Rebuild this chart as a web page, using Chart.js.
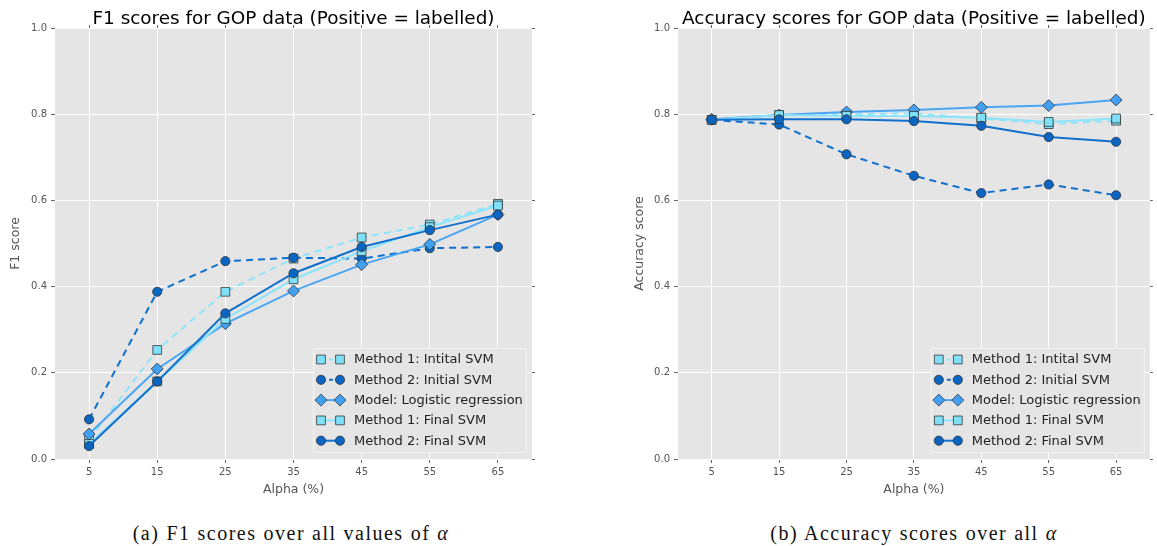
<!DOCTYPE html>
<html>
<head>
<meta charset="utf-8">
<script src="https://cdn.jsdelivr.net/npm/chart.js@4.4.1/dist/chart.umd.min.js"></script>
<style>
  body { margin: 0; background: #fff; width: 1157px; height: 546px; position: relative; overflow: hidden; }
  .box { position: absolute; top: 0; height: 505px; }
  .cap { position: absolute; top: 522px; font-family: "Liberation Serif", serif; font-size: 20px; letter-spacing: 1.5px; word-spacing: 0.5px; color: #111; white-space: nowrap; transform: translateX(-50%); }
</style>
</head>
<body>
<div class="box" style="left:0;width:560px"><canvas id="f1Chart"></canvas></div>
<div class="box" style="left:580px;width:577px"><canvas id="accChart"></canvas></div>
<div class="cap" style="left:291px">(a) F1 scores over all values of <i>α</i></div>
<div class="cap" style="left:914px">(b) Accuracy scores over all <i>α</i></div>
<script>
// x values and tick labels
const alpha = [5, 15, 25, 35, 45, 55, 65];
const yTicks = [0, 0.2, 0.4, 0.6, 0.8, 1.0];
const seriesNames = ['Method 1: Intital SVM', 'Method 2: Initial SVM', 'Model: Logistic regression',
                     'Method 1: Final SVM', 'Method 2: Final SVM'];

// F1 scores
const f1M1Initial = [0.045, 0.253, 0.388, 0.465, 0.514, 0.544, 0.592];
const f1M2Initial = [0.092, 0.388, 0.459, 0.467, 0.465, 0.489, 0.492];
const f1Logistic  = [0.058, 0.209, 0.314, 0.390, 0.451, 0.498, 0.567];
const f1M1Final   = [0.035, 0.180, 0.325, 0.417, 0.482, 0.538, 0.588];
const f1M2Final   = [0.030, 0.180, 0.338, 0.431, 0.492, 0.531, 0.567];

// accuracy scores
const accM1Initial = [0.787, 0.798, 0.800, 0.802, 0.790, 0.777, 0.785];
const accM2Initial = [0.787, 0.776, 0.707, 0.657, 0.617, 0.637, 0.612];
const accLogistic  = [0.788, 0.798, 0.805, 0.810, 0.816, 0.820, 0.833];
const accM1Final   = [0.787, 0.798, 0.796, 0.796, 0.792, 0.782, 0.790];
const accM2Final   = [0.787, 0.788, 0.788, 0.784, 0.773, 0.747, 0.736];

const styles = [
  { line: '#8ee4fa', fill: '#7fe0f7', marker: 'rect',    radius: 6.2, dash: [7, 5] },
  { line: '#1170cc', fill: '#0a66c2', marker: 'circle',  radius: 4.6, dash: [7, 5] },
  { line: '#4aa5f2', fill: '#42a0f2', marker: 'rectRot', radius: 6,   dash: [] },
  { line: '#8ee4fa', fill: '#7fe0f7', marker: 'rect',    radius: 6.2, dash: [] },
  { line: '#1170cc', fill: '#0a66c2', marker: 'circle',  radius: 4.6, dash: [] }
];
const edge = 'rgba(45,45,45,0.75)';
const FONT = 'DejaVu Sans';

function drawMarker(ctx, st, x, y) {
  ctx.beginPath();
  if (st.marker === 'circle') {
    ctx.arc(x, y, st.radius, 0, Math.PI * 2);
  } else if (st.marker === 'rect') {
    const s = st.radius * Math.SQRT1_2;
    ctx.rect(x - s, y - s, 2 * s, 2 * s);
  } else {
    const r = st.radius;
    ctx.moveTo(x - r, y); ctx.lineTo(x, y - r); ctx.lineTo(x + r, y); ctx.lineTo(x, y + r); ctx.closePath();
  }
  ctx.fillStyle = st.fill;
  ctx.fill();
  ctx.lineWidth = 1;
  ctx.strokeStyle = edge;
  ctx.stroke();
}

// grey plot background, title centred over the plot area, matplotlib-like legend box
const extras = {
  id: 'extras',
  beforeDraw(chart) {
    const ca = chart.chartArea;
    const ctx = chart.ctx;
    ctx.save();
    ctx.fillStyle = '#e5e5e5';
    ctx.fillRect(ca.left, ca.top, ca.right - ca.left, ca.bottom - ca.top);
    ctx.restore();
  },
  afterDraw(chart, args, opts) {
    const ctx = chart.ctx;
    const ca = chart.chartArea;
    ctx.save();
    ctx.font = '18.4px "' + FONT + '"';
    ctx.fillStyle = '#000';
    ctx.textAlign = 'center';
    ctx.textBaseline = 'alphabetic';
    ctx.fillText(opts.title, (ca.left + ca.right) / 2, 24);

    const w = 214, h = 105;
    const bx = ca.right - 5 - w, by = ca.bottom - 6 - h;
    ctx.fillStyle = '#e5e5e5';
    ctx.fillRect(bx, by, w, h);
    ctx.strokeStyle = '#f4f4f4';
    ctx.lineWidth = 1;
    ctx.strokeRect(bx + 0.5, by + 0.5, w - 1, h - 1);
    ctx.font = '13px "' + FONT + '"';
    ctx.textAlign = 'left';
    ctx.textBaseline = 'middle';
    seriesNames.forEach((name, i) => {
      const st = styles[i];
      const cy = by + 11.5 + i * 20.3;
      const x1 = bx + 8, x2 = bx + 27;
      ctx.beginPath();
      ctx.setLineDash(st.dash.length ? [4, 4] : []);
      ctx.strokeStyle = st.line;
      ctx.lineWidth = 2;
      ctx.moveTo(x1, cy); ctx.lineTo(x2, cy);
      ctx.stroke();
      ctx.setLineDash([]);
      drawMarker(ctx, st, x1, cy);
      drawMarker(ctx, st, x2, cy);
      ctx.fillStyle = '#222';
      ctx.fillText(name, bx + 41, cy + 0.5);
    });
    ctx.restore();
  }
};

function makeChart(id, title, yTitle, series, lay) {
  const datasets = series.map((vals, i) => ({
    label: seriesNames[i],
    data: alpha.map((a, k) => ({ x: a, y: vals[k] })),
    borderColor: styles[i].line,
    borderWidth: 2,
    borderDash: styles[i].dash,
    pointStyle: styles[i].marker,
    pointRadius: styles[i].radius,
    pointBackgroundColor: styles[i].fill,
    pointBorderColor: edge,
    pointBorderWidth: 1,
    tension: 0,
    fill: false,
    order: series.length - i
  }));

  const tickMarksOnly = (pos, axisMin, axisMax, ticks, size) => ({
    position: pos,
    min: axisMin, max: axisMax,
    afterBuildTicks: s => { s.ticks = ticks.map(v => ({ value: v })); },
    afterFit: s => { if (s.isHorizontal()) s.height = size; else s.width = size; },
    border: { display: false },
    grid: { drawOnChartArea: false, tickLength: 3, tickColor: '#666' },
    ticks: { display: false }
  });

  return new Chart(document.getElementById(id), {
    type: 'line',
    data: { datasets: datasets },
    plugins: [extras],
    options: {
      responsive: true,
      maintainAspectRatio: false,
      animation: false,
      events: [],
      layout: { padding: { top: 25, left: lay.padLeft, right: 0, bottom: 0 } },
      plugins: {
        legend: { display: false },
        tooltip: { enabled: false },
        extras: { title: title }
      },
      scales: {
        x: {
          type: 'linear',
          min: 0, max: 70,
          afterBuildTicks: s => { s.ticks = alpha.map(v => ({ value: v })); },
          afterFit: s => { s.height = 46; },
          border: { display: false },
          grid: { color: '#ffffff', lineWidth: 1, tickLength: 4, tickColor: '#666' },
          ticks: { color: '#555', padding: 3, font: { family: FONT, size: 10 }, callback: v => String(v) },
          title: { display: true, text: 'Alpha (%)', color: '#555', padding: { top: 0, bottom: 7.5 },
                   font: { family: FONT, size: 12.5 } }
        },
        x2: Object.assign(tickMarksOnly('top', 0, 70, alpha, 3), { type: 'linear' }),
        y: {
          min: 0, max: 1,
          afterBuildTicks: s => { s.ticks = yTicks.map(v => ({ value: v })); },
          afterFit: s => { s.width = lay.yWidth; },
          border: { display: false },
          grid: { color: '#ffffff', lineWidth: 1, tickLength: 4, tickColor: '#666' },
          ticks: { color: '#555', padding: 4, font: { family: FONT, size: 10 }, callback: v => v.toFixed(1) },
          title: { display: true, text: yTitle, color: '#555', padding: { top: 8.5, bottom: 0 },
                   font: { family: FONT, size: 12.5 } }
        },
        y2: tickMarksOnly('right', 0, 1, yTicks, lay.y2Width)
      }
    }
  });
}

makeChart('f1Chart', 'F1 scores for GOP data (Positive = labelled)', 'F1 score',
  [f1M1Initial, f1M2Initial, f1Logistic, f1M1Final, f1M2Final],
  { padLeft: 0, yWidth: 55, y2Width: 28 });

makeChart('accChart', 'Accuracy scores for GOP data (Positive = labelled)', 'Accuracy score',
  [accM1Initial, accM2Initial, accLogistic, accM1Final, accM2Final],
  { padLeft: 44, yWidth: 54, y2Width: 3 });
</script>
</body>
</html>
